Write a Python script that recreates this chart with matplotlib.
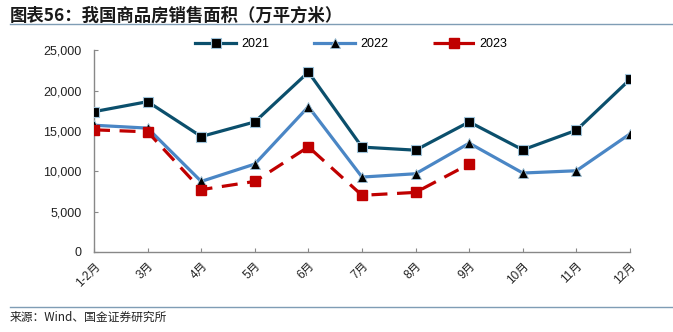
import matplotlib
matplotlib.use('Agg')
import matplotlib.pyplot as plt
from matplotlib.lines import Line2D

plt.rcParams['font.family'] = ['Liberation Sans', 'Noto Sans CJK SC', 'DejaVu Sans']

months = ['1-2月', '3月', '4月', '5月', '6月', '7月', '8月', '9月', '10月', '11月', '12月']
area_2021 = [17380, 18620, 14300, 16110, 22280, 12990, 12610, 16110, 12650, 15080, 21380]
area_2022 = [15700, 15340, 8740, 10890, 18000, 9280, 9690, 13480, 9780, 10060, 14630]
area_2023 = [15130, 14880, 7720, 8740, 13020, 7020, 7380, 10890]
yticks = [0, 5000, 10000, 15000, 20000, 25000]

fig = plt.figure(figsize=(6.73, 3.32), dpi=100)
ax = fig.add_axes([0.1397, 0.241, 0.7964, 0.608])

x = list(range(len(months)))
ax.plot(x, area_2021, color='#0B4F6C', lw=2.3, marker='s', ms=7.5,
        mfc='black', mec='#9EC3DA', mew=0.8, label='2021', zorder=3)
ax.plot(x, area_2022, color='#4A86C5', lw=2.3, marker='^', ms=7,
        mfc='black', mec='#9EC3DA', mew=0.6, label='2022', zorder=3)
ax.plot(x[:len(area_2023)], area_2023, color='#C00000', lw=2.3, ls=(0, (5, 3)),
        marker='s', ms=7.5, mfc='#C00000', mec='#C00000', label='2023', zorder=3)

ax.set_xlim(0, len(months) - 1)
ax.set_ylim(0, 25000)
ax.set_yticks(yticks)
ax.set_yticklabels(['{:,}'.format(v) for v in yticks], fontsize=9, color='#222222')
ax.set_xticks(x)
ax.set_xticklabels(months, rotation=45, ha='right', va='top', fontsize=8.5,
                   rotation_mode='anchor', color='#222222')
ax.tick_params(axis='both', direction='in', length=3, color='#888888')
ax.tick_params(axis='y', pad=9)
ax.tick_params(axis='x', pad=6)
for s in ['top', 'right']:
    ax.spines[s].set_visible(False)
for s in ['left', 'bottom']:
    ax.spines[s].set_color('#888888')
    ax.spines[s].set_linewidth(1)

ax.legend(loc='center', bbox_to_anchor=(0.48, 1.03), ncol=3, frameon=False,
          fontsize=9, handlelength=3.3, columnspacing=3.6, handletextpad=0.4)

# title, rules and source note
fig.text(0.015, 0.952, '图表56：我国商品房销售面积（万平方米）', fontsize=12.5, fontweight='bold',
         color='#1a1a1a', family=['Noto Sans CJK SC', 'DejaVu Sans'], va='center')
fig.add_artist(Line2D([0.015, 1.0], [0.927, 0.927], color='#7F9DB5', lw=1))
fig.add_artist(Line2D([0.015, 1.0], [0.075, 0.075], color='#7F9DB5', lw=1))
fig.text(0.015, 0.045, '来源：Wind、国金证券研究所', fontsize=8.5, color='#222222',
         family=['Noto Sans CJK SC', 'DejaVu Sans'], va='center')

fig.savefig('out.png', dpi=100)
